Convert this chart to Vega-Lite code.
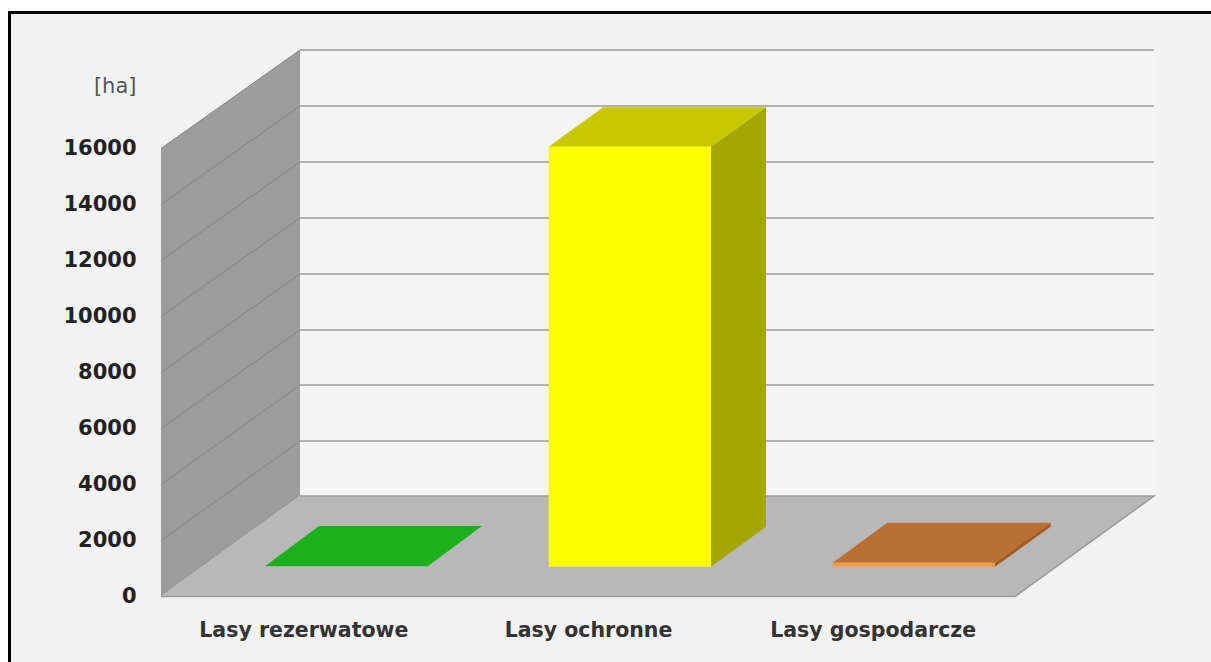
{"$schema":"https://vega.github.io/schema/vega-lite/v6.json","width":1211,"height":662,"padding":0,"autosize":"none","background":"#ffffff","view":{"stroke":null},
"datasets":{
"frame":[{"x":-0.5322,"x2":3.9,"y":20857,"y2":-4000}],
"walls":[{"face":"back wall","x":0.4883,"y":3589,"y2":19518},{"face":"back wall","x":3.4883,"y":3589,"y2":19518},{"face":"side wall","x":0,"y":0,"y2":16000},{"face":"side wall","x":0.4883,"y":3589,"y2":19518}],
"floor":[{"face":"floor","y":0,"x":0,"x2":3},{"face":"floor","y":3589,"x":0.4883,"x2":3.4883}],
"wallGrid":[{"v":2000,"x":0,"y":2000},{"v":2000,"x":0.4883,"y":5554},{"v":4000,"x":0,"y":4000},{"v":4000,"x":0.4883,"y":7554},{"v":6000,"x":0,"y":6000},{"v":6000,"x":0.4883,"y":9518},{"v":8000,"x":0,"y":8000},{"v":8000,"x":0.4883,"y":11518},{"v":10000,"x":0,"y":10000},{"v":10000,"x":0.4883,"y":13518},{"v":12000,"x":0,"y":12000},{"v":12000,"x":0.4883,"y":15518},{"v":14000,"x":0,"y":14000},{"v":14000,"x":0.4883,"y":17518},{"v":16000,"x":0,"y":16000},{"v":16000,"x":0.4883,"y":19518}],
"backGrid":[{"v":2000,"x":0.4883,"y":5554},{"v":2000,"x":3.4883,"y":5554},{"v":4000,"x":0.4883,"y":7554},{"v":4000,"x":3.4883,"y":7554},{"v":6000,"x":0.4883,"y":9518},{"v":6000,"x":3.4883,"y":9518},{"v":8000,"x":0.4883,"y":11518},{"v":8000,"x":3.4883,"y":11518},{"v":10000,"x":0.4883,"y":13518},{"v":10000,"x":3.4883,"y":13518},{"v":12000,"x":0.4883,"y":15518},{"v":12000,"x":3.4883,"y":15518},{"v":14000,"x":0.4883,"y":17518},{"v":14000,"x":3.4883,"y":17518},{"v":16000,"x":0.4883,"y":19518},{"v":16000,"x":3.4883,"y":19518}],
"floorEdge":[{"x":0,"y":0},{"x":3,"y":0},{"x":3.4883,"y":3589},{"x":0.4883,"y":3589}],
"tops":[{"face":"green top","y":1079,"x":0.3653,"x2":0.9369},{"face":"green top","y":2518,"x":0.555,"x2":1.1276},{"face":"yellow top","y":16064,"x":1.362,"x2":1.932},{"face":"yellow top","y":17471,"x":1.5527,"x2":2.1253},{"face":"orange top","y":1207,"x":2.3596,"x2":2.9297},{"face":"orange top","y":2636,"x":2.5511,"x2":3.1254}],
"sides":[{"face":"yellow side","x":1.932,"y":1064,"y2":16064},{"face":"yellow side","x":2.1253,"y":2493,"y2":17471},{"face":"orange side","x":2.9297,"y":1064,"y2":1207},{"face":"orange side","x":3.1254,"y":2493,"y2":2636}],
"fronts":[{"face":"yellow front","x":1.362,"x2":1.932,"y":1064,"y2":16064},{"face":"orange front","x":2.3596,"x2":2.9297,"y":1064,"y2":1207}]
},
"encoding":{
"x":{"field":"x","type":"quantitative","stack":null,"title":null,"scale":{"domain":[-0.56557,3.68851],"nice":false,"zero":false},"axis":{"values":[0.5,1.5,2.5],"labelExpr":"datum.value<1?'Lasy rezerwatowe':datum.value<2?'Lasy ochronne':'Lasy gospodarcze'","offset":-42,"domain":false,"ticks":false,"grid":false,"labelPadding":0,"labelLimit":400,"labelFont":"DejaVu Sans","labelFontWeight":"bold","labelFontSize":20.5,"labelColor":"#333333","labelBaseline":"top","zindex":1}},
"y":{"field":"y","type":"quantitative","stack":null,"title":"[ha]","scale":{"domain":[-2339.3,21303.6],"nice":false,"zero":false},"axis":{"values":[0,2000,4000,6000,8000,10000,12000,14000,16000],"format":"d","offset":-136,"domain":false,"ticks":false,"grid":false,"labelPadding":0,"labelFont":"DejaVu Sans","labelFontWeight":"bold","labelFontSize":21,"labelColor":"#222222","titleAngle":0,"titleX":0,"titleY":86,"titleAlign":"right","titleBaseline":"middle","titleFont":"DejaVu Sans","titleFontWeight":"normal","titleFontSize":21,"titleColor":"#555555","zindex":1}},
"color":{"field":"face","type":"nominal","legend":null,"scale":{"domain":["back wall","side wall","floor","green top","yellow top","yellow side","yellow front","orange top","orange side","orange front"],"range":["#f4f4f4","#9c9c9c","#b8b8b8","#1cb01c","#c8c800","#a6a600","#ffff00","#bb7033","#a35d24","#ff9a44"]}}
},
"layer":[
{"data":{"name":"frame"},"mark":{"type":"rect","fill":"#f2f2f2","stroke":"#000000","strokeWidth":3},"encoding":{"x2":{"field":"x2"},"y2":{"field":"y2"},"color":{"value":"#f2f2f2"}}},
{"data":{"name":"walls"},"mark":{"type":"area","orient":"vertical"},"encoding":{"y2":{"field":"y2"}}},
{"data":{"name":"floor"},"mark":{"type":"area","orient":"horizontal"},"encoding":{"x2":{"field":"x2"}}},
{"data":{"name":"backGrid"},"mark":{"type":"line","strokeWidth":2},"encoding":{"detail":{"field":"v"},"order":{"field":"x"},"color":{"value":"#b0b0b0"}}},
{"data":{"name":"wallGrid"},"mark":{"type":"line","strokeWidth":1},"encoding":{"detail":{"field":"v"},"order":{"field":"x"},"color":{"value":"#868686"}}},
{"data":{"name":"floorEdge"},"mark":{"type":"line","strokeWidth":1.5,"interpolate":"linear"},"encoding":{"order":{"field":"y","sort":"ascending"},"color":{"value":"#9a9a9a"}}},
{"data":{"name":"tops"},"mark":{"type":"area","orient":"horizontal"},"encoding":{"x2":{"field":"x2"}}},
{"data":{"name":"sides"},"mark":{"type":"area","orient":"vertical"},"encoding":{"y2":{"field":"y2"}}},
{"data":{"name":"fronts"},"mark":{"type":"rect"},"encoding":{"x2":{"field":"x2"},"y2":{"field":"y2"}}}
]}
